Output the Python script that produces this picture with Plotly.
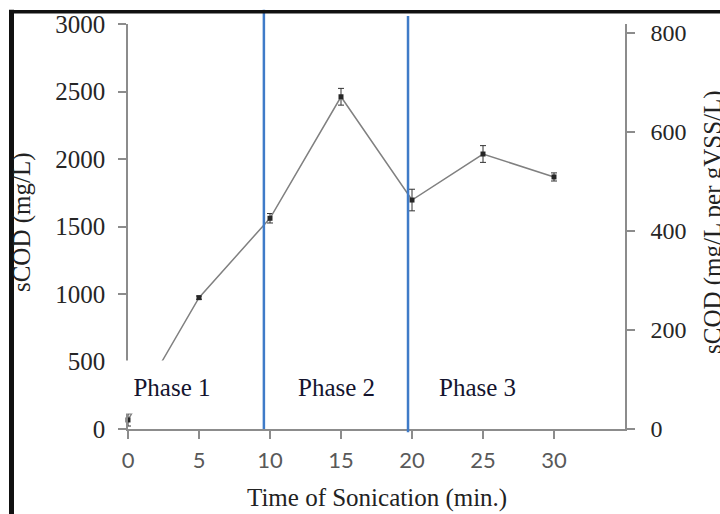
import plotly.graph_objects as go

# Sonication time (min) and soluble COD (mg/L) with standard deviation
time_min = [0, 5, 10, 15, 20, 25, 30]
scod_mg_l = [67, 973, 1561, 2461, 1696, 2037, 1867]
scod_err = [45, 12, 35, 62, 80, 62, 30]

x_ticks = [0, 5, 10, 15, 20, 25, 30]
left_ticks = [0, 500, 1000, 1500, 2000, 2500, 3000]
right_ticks = [0, 200, 400, 600, 800]

phase_labels = ["Phase 1", "Phase 2", "Phase 3"]
phase_label_x = [3.1, 14.67, 24.6]
phase_bounds = [9.57, 19.72]

SERIF = "Liberation Serif, Times New Roman, serif"
AXIS_GREY = "#8c8c8c"

fig = go.Figure()

fig.add_trace(go.Scatter(
    x=time_min, y=scod_mg_l,
    mode="lines+markers",
    line=dict(color="#808080", width=1.5),
    marker=dict(symbol="square", size=5, color="#262626"),
    error_y=dict(type="data", array=scod_err, visible=True,
                 color="#333333", thickness=1, width=3),
    showlegend=False,
    cliponaxis=False,
))

# empty trace so the secondary (per gVSS) axis is rendered
fig.add_trace(go.Scatter(x=[], y=[], yaxis="y2", showlegend=False, hoverinfo="skip"))

# phase boundaries
fig.add_shape(type="line", xref="x", yref="paper",
              x0=phase_bounds[0], x1=phase_bounds[0], y0=0, y1=1.035,
              line=dict(color="#3f7bc8", width=2.5), layer="above")
fig.add_shape(type="line", xref="x", yref="paper",
              x0=phase_bounds[1], x1=phase_bounds[1], y0=-0.008, y1=1.02,
              line=dict(color="#3f7bc8", width=2.5), layer="above")

# heavy frame along the left and top edges
fig.add_shape(type="line", xref="paper", yref="paper",
              x0=-0.2344, x1=-0.2344, y0=-0.3, y1=1.035,
              line=dict(color="#111111", width=5), layer="above")
fig.add_shape(type="line", xref="paper", yref="paper",
              x0=-0.239, x1=1.3, y0=1.0305, y1=1.0305,
              line=dict(color="#111111", width=3.5), layer="above")

# phase labels
for i, (label, px) in enumerate(zip(phase_labels, phase_label_x)):
    ann = dict(x=px, y=0.103, xref="x", yref="paper", text=label,
               showarrow=False, font=dict(family=SERIF, size=25, color="#14142e"),
               xanchor="center", yanchor="middle")
    if i == 0:
        ann.update(bgcolor="white", width=108, height=52, borderpad=0)
    fig.add_annotation(**ann)

# axis titles
fig.add_annotation(x=0.5, y=-0.170, xref="paper", yref="paper",
                   text="Time of Sonication (min.)", showarrow=False,
                   font=dict(family=SERIF, size=25, color="#222222"),
                   xanchor="center", yanchor="middle")
fig.add_annotation(x=-0.2133, y=0.511, xref="paper", yref="paper",
                   text="sCOD (mg/L)", showarrow=False, textangle=-90,
                   font=dict(family=SERIF, size=25, color="#222222"),
                   xanchor="center", yanchor="middle")
fig.add_annotation(x=1.177, y=0.511, xref="paper", yref="paper",
                   text="sCOD (mg/L per gVSS/L)", showarrow=False, textangle=-90,
                   font=dict(family=SERIF, size=25, color="#222222"),
                   xanchor="center", yanchor="middle")

fig.update_layout(
    width=720, height=514, autosize=False,
    margin=dict(l=128, r=95, t=24, b=85),
    paper_bgcolor="white", plot_bgcolor="white",
    xaxis=dict(range=[0, 35], tickvals=x_ticks, ticks="outside", ticklen=8,
               tickwidth=1.5, tickcolor=AXIS_GREY, showline=True,
               linecolor=AXIS_GREY, linewidth=1.5, showgrid=False, zeroline=False,
               tickfont=dict(family="Lato, Open Sans, sans-serif", size=22, color="#595959"),
               ticklabelstandoff=3),
    yaxis=dict(range=[0, 3000], tickvals=left_ticks, ticks="outside", ticklen=8,
               tickwidth=1.5, tickcolor=AXIS_GREY, showline=True,
               linecolor=AXIS_GREY, linewidth=1.5, showgrid=False, zeroline=False,
               tickfont=dict(family=SERIF, size=25, color="#262626"),
               ticklabelstandoff=8),
    yaxis2=dict(range=[0, 818], tickvals=right_ticks, ticks="outside", ticklen=8,
                tickwidth=1.5, tickcolor=AXIS_GREY, showline=True,
                linecolor=AXIS_GREY, linewidth=1.5, showgrid=False, zeroline=False,
                overlaying="y", side="right", anchor="x",
                tickfont=dict(family=SERIF, size=24, color="#262626"),
                ticklabelstandoff=11),
)

fig.write_html("out.html")
